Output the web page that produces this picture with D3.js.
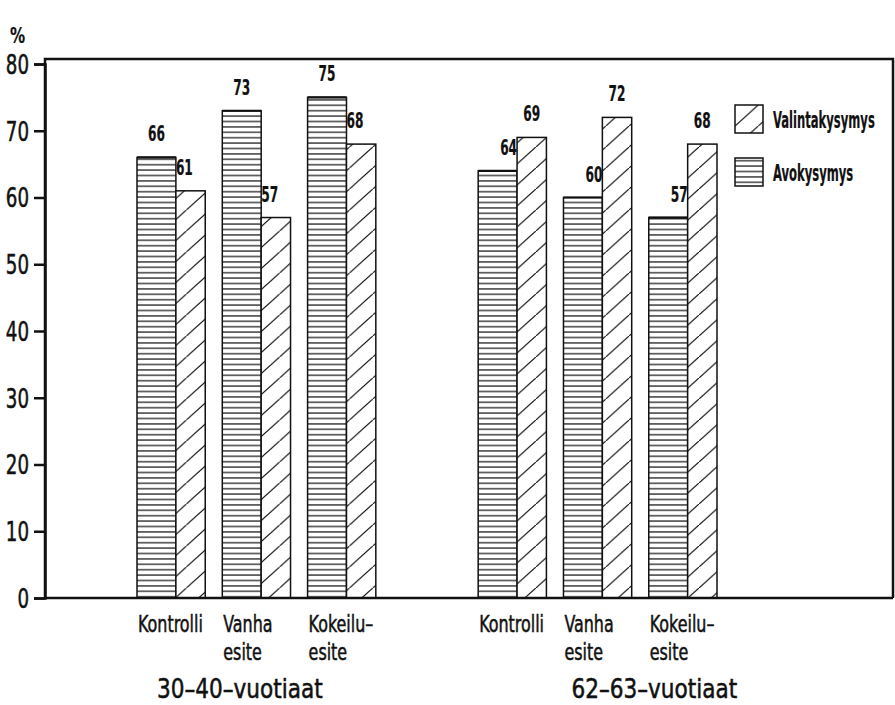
<!DOCTYPE html>
<html lang="fi">
<head>
<meta charset="UTF-8">
<title>Avokysymys / Valintakysymys</title>
<script src="https://cdn.jsdelivr.net/npm/d3@7"></script>
<style>
  body { margin: 0; background: #fff; }
  text { font-family: "DejaVu Sans Condensed", "DejaVu Sans", sans-serif; fill: #111; stroke: #111; stroke-width: 0.5; }
</style>
</head>
<body>
<script>
// data
var groups = ['30–40–vuotiaat', '62–63–vuotiaat'];
var categories = [['Kontrolli'], ['Vanha', 'esite'], ['Kokeilu–', 'esite']];
var series = ['Valintakysymys', 'Avokysymys'];
var avokysymys = [[66, 73, 75], [64, 60, 57]];
var valintakysymys = [[61, 57, 68], [69, 72, 68]];
var yTicks = [0, 10, 20, 30, 40, 50, 60, 70, 80];

var W = 895, H = 705;
var svg = d3.select('body').append('svg').attr('width', W).attr('height', H);

// the original lettering is a narrow stencil-like face, so squeeze the text sideways
function label(parent, px, py, lines, size, sx, anchor, weight, lineGap) {
  var t = parent.append('text')
    .attr('transform', 'translate(' + px + ',' + py + ') scale(' + sx + ',1)')
    .attr('font-size', size)
    .attr('text-anchor', anchor || 'start')
    .attr('font-weight', weight || 'normal');
  if (weight === 'bold') t.style('stroke-width', 0.2);
  [].concat(lines).forEach(function (s, i) {
    t.append('tspan').attr('x', 0).attr('dy', i === 0 ? 0 : lineGap).text(s);
  });
  return t;
}

var defs = svg.append('defs');
var hp = defs.append('pattern').attr('id', 'horiz')
  .attr('patternUnits', 'userSpaceOnUse').attr('width', 10).attr('height', 5.4);
hp.append('rect').attr('width', 10).attr('height', 5.4).attr('fill', '#fff');
hp.append('line').attr('x1', 0).attr('x2', 10).attr('y1', 2.7).attr('y2', 2.7)
  .attr('stroke', '#111').attr('stroke-width', 1.2);

var dw = 23.3, dh = 21;
var dp = defs.append('pattern').attr('id', 'diag')
  .attr('patternUnits', 'userSpaceOnUse').attr('width', dw).attr('height', dh);
dp.append('rect').attr('width', dw).attr('height', dh).attr('fill', '#fff');
dp.append('path').attr('d', 'M-2,' + (dh + 1.8) + 'L' + (dw + 2) + ',-1.8')
  .attr('stroke', '#111').attr('stroke-width', 1.2);

// slots: three categories per group, one empty slot between the groups
var slots = [];
groups.forEach(function (g, gi) {
  categories.forEach(function (c, ci) { slots.push(gi + '-' + ci); });
  if (gi === 0) slots.push('gap');
});

var x = d3.scaleBand().domain(slots).range([137, 717])
  .paddingInner(0.2).paddingOuter(0).align(0);
var y = d3.scaleLinear().domain([0, 80]).range([598, 64]);

var avoShare = 0.57;

// frame
svg.append('path')
  .attr('d', 'M45,' + y(0) + 'V59H893V' + y(0))
  .attr('fill', 'none').attr('stroke', '#111').attr('stroke-width', 2.5);

// y axis
var yAxis = svg.append('g').attr('transform', 'translate(45,0)')
  .call(d3.axisLeft(y).tickValues(yTicks).tickSize(11).tickPadding(5));
yAxis.select('.domain').attr('stroke', '#111').attr('stroke-width', 2.5);
yAxis.selectAll('.tick line').attr('stroke', '#111').attr('stroke-width', 2.5);
yAxis.selectAll('.tick text')
  .attr('x', 0)
  .attr('transform', 'translate(-16,1) scale(0.78,1)')
  .attr('font-size', 26)
  .attr('font-family', '"DejaVu Sans Condensed", "DejaVu Sans", sans-serif')
  .attr('fill', '#111');

label(svg, 10, 43, '%', 21, 0.8, 'start', 'bold');

// bars and value labels
var rows = [];
groups.forEach(function (g, gi) {
  categories.forEach(function (c, ci) {
    rows.push({ slot: gi + '-' + ci, cat: ci, avo: avokysymys[gi][ci], val: valintakysymys[gi][ci] });
  });
});

var bars = svg.append('g');
rows.forEach(function (d) {
  var x0 = x(d.slot), bw = x.bandwidth();
  var mid = x0 + bw * avoShare;
  bars.append('rect').attr('x', x0).attr('y', y(d.avo))
    .attr('width', mid - x0).attr('height', y(0) - y(d.avo))
    .attr('fill', 'url(#horiz)').attr('stroke', '#111').attr('stroke-width', 1.5);
  bars.append('line').attr('x1', x0).attr('x2', mid).attr('y1', y(d.avo)).attr('y2', y(d.avo))
    .attr('stroke', '#111').attr('stroke-width', 2.2);
  bars.append('rect').attr('x', mid).attr('y', y(d.val))
    .attr('width', x0 + bw - mid).attr('height', y(0) - y(d.val))
    .attr('fill', 'url(#diag)').attr('stroke', '#111').attr('stroke-width', 1.5);

  if (d.avo >= d.val) {
    label(bars, (x0 + mid) / 2, y(d.avo) - 16, String(d.avo), 20.5, 0.66, 'middle', 'bold');
    label(bars, mid, y(d.val) - 16, String(d.val), 20.5, 0.66, 'start', 'bold');
  } else {
    label(bars, (mid + x0 + bw) / 2, y(d.val) - 16, String(d.val), 20.5, 0.66, 'middle', 'bold');
    label(bars, mid, y(d.avo) - 16, String(d.avo), 20.5, 0.66, 'end', 'bold');
  }
});

// baseline
svg.append('line').attr('x1', 45).attr('x2', 893).attr('y1', y(0)).attr('y2', y(0))
  .attr('stroke', '#111').attr('stroke-width', 2.5);

// category labels
rows.forEach(function (d) {
  label(svg, x(d.slot) + 1, 632, categories[d.cat], 23, 0.77, 'start', 'normal', 28);
});

// group labels
label(svg, x('0-0') + 20, 698, groups[0], 27, 0.89, 'start');
label(svg, x('1-1') + 8, 698, groups[1], 27, 0.89, 'start');

// legend
var legend = svg.append('g').attr('transform', 'translate(735,105)');
series.forEach(function (s, i) {
  var g = legend.append('g').attr('transform', 'translate(0,' + (i * 53) + ')');
  g.append('rect').attr('width', 28).attr('height', 28)
    .attr('fill', i === 0 ? 'url(#diag)' : 'url(#horiz)')
    .attr('stroke', '#111').attr('stroke-width', 1.5);
  label(g, 38, 23, s, 23, 0.56, 'start', 'bold');
});
</script>
</body>
</html>
